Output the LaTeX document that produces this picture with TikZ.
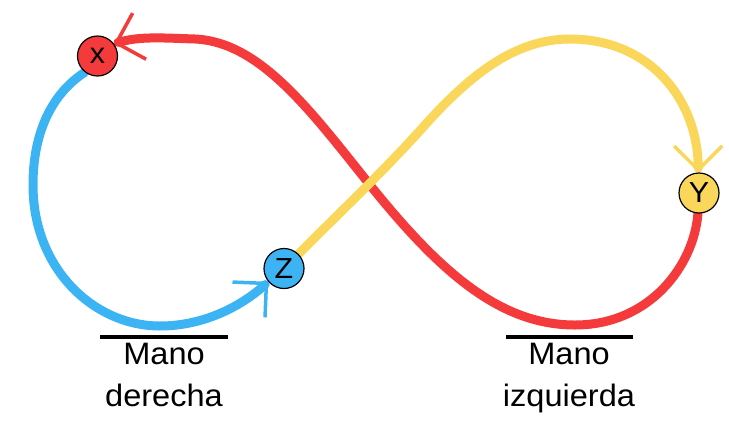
\documentclass[tikz,border=0pt]{standalone}
\usepackage{fontspec}
\setmainfont{Liberation Sans}[FakeStretch=1.05]
\usetikzlibrary{arrows.meta}
\definecolor{cred}{HTML}{F43A3A}
\definecolor{cblue}{HTML}{3CB4F4}
\definecolor{cyellow}{HTML}{FAD75A}
\pgfdeclarelayer{bg}
\pgfsetlayers{bg,main}
\tikzset{
  pt/.style={circle, draw=black, line width=1.2pt, minimum size=40pt, inner sep=0pt,
    font=\fontsize{29}{32}\selectfont},
  curve/.style={line width=9pt, line cap=round},
  tip/.style={-{Straight Barb[length=24pt, width=48pt, line width=3.5pt]}},
  bar/.style={line width=4pt},
  lab/.style={anchor=base, inner sep=0pt, font=\fontsize{31}{43}\selectfont}
}
\begin{document}
\begin{tikzpicture}[x=1pt, y=-1pt]
\useasboundingbox (0,0) rectangle (729,424);
\node[pt, fill=cred] (X) at (97.5,56) {x};
\node[pt, fill=cblue] (Z) at (284,268.5) {Z};
\node[pt, fill=cyellow] (Y) at (699,193) {Y};
\begin{pgfonlayer}{bg}
\draw[curve, cblue, tip] (X.-128) .. controls (50,95) and (33,135) .. (33,185)
  .. controls (33,270) and (95,326) .. (160,326)
  .. controls (205,326) and (243,305) .. (Z.-140);
\draw[curve, cred, tip] (Y.-93) .. controls (694,265) and (650,325) .. (575,325)
  .. controls (500,325) and (440,272) .. (370,185)
  .. controls (310,110) and (260,42) .. (195,39)
  .. controls (163,38) and (140,36) .. (X.37);
\draw[curve, cyellow, tip] (Z.45) .. controls (330,222) and (385,170) .. (425,125)
  .. controls (470,75) and (515,39) .. (570,39)
  .. controls (650,39) and (698,100) .. (Y.92);
\end{pgfonlayer}
\coordinate (b1l) at (100,337);
\coordinate (b1r) at (228,337);
\coordinate (b2l) at (506,337);
\coordinate (b2r) at (633,337);
\draw[bar] (b1l) -- (b1r);
\draw[bar] (b2l) -- (b2r);
\node[lab] (m1) at (164,364) {Mano};
\node[lab] (d1) at (164,406) {derecha};
\node[lab] (m2) at (569,364) {Mano};
\node[lab] (d2) at (569,406) {izquierda};
\end{tikzpicture}
\end{document}
